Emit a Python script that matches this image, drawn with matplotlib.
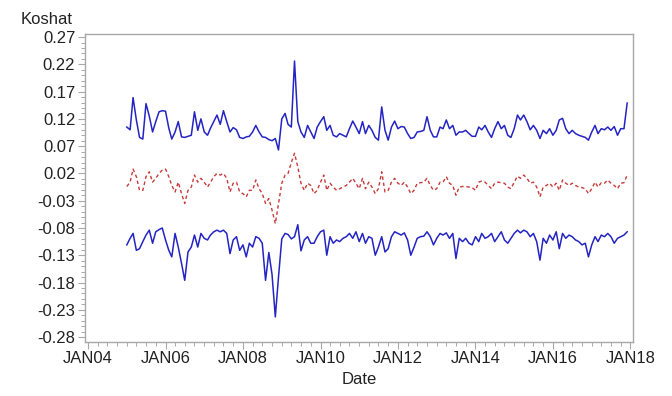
import numpy as np
import pandas as pd
import matplotlib
matplotlib.use("Agg")
import matplotlib.pyplot as plt
import matplotlib.dates as mdates
from matplotlib.ticker import FixedLocator

# ---- data (monthly, Jan 2005 - Dec 2017) ----
dates = pd.date_range("2005-01-01", periods=156, freq="MS")

upper = [
    0.105, 0.100, 0.159, 0.118, 0.086, 0.083, 0.148, 0.125, 0.096, 0.115,
    0.133, 0.135, 0.134, 0.103, 0.083, 0.096, 0.115, 0.087, 0.086, 0.088,
    0.090, 0.133, 0.099, 0.120, 0.096, 0.090, 0.103, 0.115, 0.127, 0.110,
    0.135, 0.115, 0.096, 0.104, 0.100, 0.086, 0.084, 0.087, 0.088, 0.096,
    0.108, 0.096, 0.087, 0.086, 0.082, 0.080, 0.084, 0.063, 0.120, 0.130,
    0.110, 0.105, 0.226, 0.115, 0.096, 0.086, 0.108, 0.096, 0.084, 0.105,
    0.115, 0.124, 0.099, 0.108, 0.090, 0.087, 0.093, 0.090, 0.087, 0.102,
    0.116, 0.105, 0.093, 0.115, 0.093, 0.108, 0.099, 0.086, 0.081, 0.142,
    0.099, 0.081, 0.105, 0.116, 0.102, 0.106, 0.105, 0.093, 0.084, 0.086,
    0.096, 0.097, 0.099, 0.124, 0.099, 0.087, 0.087, 0.105, 0.102, 0.118,
    0.102, 0.108, 0.090, 0.096, 0.096, 0.099, 0.093, 0.088, 0.088, 0.105,
    0.100, 0.108, 0.096, 0.086, 0.102, 0.115, 0.102, 0.108, 0.090, 0.086,
    0.102, 0.127, 0.118, 0.127, 0.115, 0.100, 0.108, 0.099, 0.084, 0.099,
    0.093, 0.102, 0.090, 0.099, 0.118, 0.121, 0.102, 0.093, 0.099, 0.093,
    0.090, 0.088, 0.086, 0.081, 0.096, 0.108, 0.093, 0.102, 0.100, 0.105,
    0.099, 0.106, 0.090, 0.102, 0.102, 0.149,
]

middle = [
    -0.004, 0.004, 0.028, 0.014, -0.011, -0.011, 0.014, 0.023, 0.004, 0.011,
    0.020, 0.026, 0.028, 0.014, -0.002, -0.014, 0.004, -0.017, -0.035, -0.011,
    -0.005, 0.017, 0.004, 0.011, 0.004, -0.005, 0.004, 0.014, 0.020, 0.017,
    0.020, 0.011, -0.014, 0.002, 0.004, -0.014, -0.017, -0.023, -0.011, -0.011,
    0.008, -0.008, -0.017, -0.035, -0.026, -0.047, -0.072, -0.035, 0.002, 0.017,
    0.020, 0.040, 0.057, 0.032, 0.002, -0.011, 0.002, -0.002, -0.017, -0.011,
    0.004, 0.017, -0.011, 0.002, -0.005, -0.011, -0.008, -0.005, -0.002, 0.004,
    0.011, 0.002, -0.008, 0.011, -0.008, 0.004, -0.005, -0.017, -0.008, 0.023,
    -0.014, -0.011, 0.004, 0.011, 0.002, -0.002, 0.004, -0.005, -0.017, -0.011,
    0.002, 0.003, 0.004, 0.011, -0.002, -0.011, -0.008, 0.004, 0.004, 0.014,
    0.002, -0.002, -0.020, -0.005, -0.004, -0.004, -0.005, -0.006, -0.011, 0.004,
    0.006, 0.004, -0.002, -0.008, 0.002, 0.004, 0.003, 0.002, -0.005, -0.008,
    0.004, 0.015, 0.011, 0.017, 0.011, 0.002, 0.004, -0.005, -0.023, -0.005,
    -0.002, 0.002, -0.005, 0.002, -0.011, 0.008, 0.002, -0.002, 0.002, -0.002,
    -0.005, -0.006, -0.008, -0.017, -0.008, 0.004, -0.005, 0.003, 0.002, 0.008,
    0.002, -0.002, -0.008, 0.002, 0.003, 0.017,
]

lower = [
    -0.111, -0.099, -0.090, -0.121, -0.118, -0.105, -0.093, -0.084, -0.108, -0.087,
    -0.083, -0.080, -0.102, -0.121, -0.133, -0.090, -0.115, -0.145, -0.176, -0.124,
    -0.115, -0.093, -0.115, -0.090, -0.099, -0.102, -0.093, -0.087, -0.084, -0.087,
    -0.084, -0.090, -0.127, -0.102, -0.096, -0.121, -0.111, -0.133, -0.108, -0.115,
    -0.096, -0.099, -0.108, -0.176, -0.125, -0.165, -0.243, -0.170, -0.100, -0.090,
    -0.092, -0.100, -0.096, -0.074, -0.122, -0.102, -0.096, -0.108, -0.108, -0.096,
    -0.087, -0.084, -0.130, -0.096, -0.108, -0.102, -0.105, -0.099, -0.096, -0.090,
    -0.099, -0.087, -0.105, -0.090, -0.108, -0.096, -0.099, -0.130, -0.115, -0.096,
    -0.124, -0.118, -0.096, -0.087, -0.090, -0.093, -0.089, -0.102, -0.130, -0.115,
    -0.099, -0.096, -0.095, -0.087, -0.096, -0.111, -0.099, -0.090, -0.093, -0.089,
    -0.099, -0.090, -0.136, -0.099, -0.105, -0.099, -0.108, -0.111, -0.096, -0.105,
    -0.090, -0.099, -0.096, -0.090, -0.105, -0.096, -0.087, -0.102, -0.108, -0.099,
    -0.090, -0.084, -0.089, -0.084, -0.087, -0.096, -0.090, -0.105, -0.139, -0.099,
    -0.108, -0.093, -0.102, -0.087, -0.118, -0.090, -0.099, -0.093, -0.096, -0.102,
    -0.105, -0.111, -0.108, -0.133, -0.111, -0.096, -0.105, -0.093, -0.096, -0.090,
    -0.096, -0.108, -0.099, -0.096, -0.093, -0.087,
]

ytick_vals = [0.27, 0.22, 0.17, 0.12, 0.07, 0.02, -0.03, -0.08, -0.13, -0.18, -0.23, -0.28]
ytick_labels = ["0.27", "0.22", "0.17", "0.12", "0.07", "0.02", "-0.03", "-0.08",
                "-0.13", "-0.18", "-0.23", "-0.28"]
xtick_years = [2004, 2006, 2008, 2010, 2012, 2014, 2016, 2018]
xtick_labels = ["JAN04", "JAN06", "JAN08", "JAN10", "JAN12", "JAN14", "JAN16", "JAN18"]

# ---- figure ----
plt.rcParams['font.family'] = ['Liberation Sans', 'DejaVu Sans']
fig = plt.figure(figsize=(6.72, 3.96), dpi=100)
ax = fig.add_axes([0.1265, 0.137, 0.815, 0.777])

blue = '#2424c4'
red = '#c83a3a'
ax.plot(dates, upper, color=blue, lw=1.1)
ax.plot(dates, lower, color=blue, lw=1.1)
ax.plot(dates, middle, color=red, lw=1.0, linestyle=(0, (2.5, 2)))

xt = [mdates.date2num(pd.Timestamp(f"{y}-01-01")) for y in xtick_years]
ax.xaxis.set_major_locator(FixedLocator(xt))
ax.set_xticklabels(xtick_labels)
minor_x = [mdates.date2num(d) for d in pd.date_range("2004-01-01", "2018-01-01", freq="QS")]
ax.xaxis.set_minor_locator(FixedLocator(minor_x))
ax.set_xlim(mdates.date2num(pd.Timestamp("2003-12-04")), mdates.date2num(pd.Timestamp("2018-01-22")))

ax.set_yticks(ytick_vals)
ax.set_yticklabels(ytick_labels)
ax.yaxis.set_minor_locator(FixedLocator(np.round(np.arange(-0.28, 0.2701, 0.01), 3)))
ax.set_ylim(-0.2886, 0.2755)

frame = '#a8a8a8'
for s in ax.spines.values():
    s.set_color(frame)
    s.set_linewidth(1.0)
ax.tick_params(axis='both', which='major', direction='out', length=5, width=0.8,
               color=frame, labelsize=12, labelcolor='#222222', pad=2)
ax.tick_params(axis='both', which='minor', direction='out', length=3, width=0.7, color=frame)

ax.set_xlabel("Date", fontsize=12, color='#222222', labelpad=4)
fig.text(0.031, 0.952, "Koshat", fontsize=12, color='#222222', ha='left', va='center')

fig.savefig("out.png", dpi=100)
